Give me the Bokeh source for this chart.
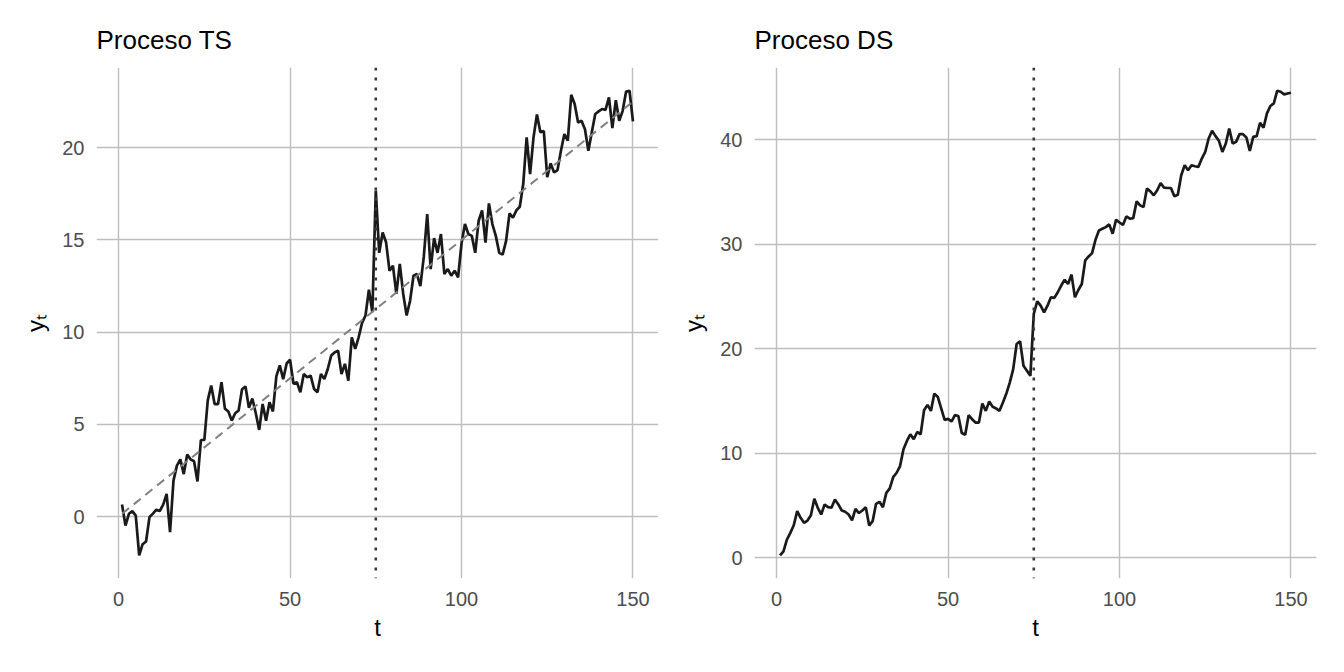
from bokeh.plotting import figure
from bokeh.layouts import row
from bokeh.models import Range1d, FixedTicker, Span
from bokeh.embed import file_html
from bokeh.resources import INLINE

# ---- data ----
t = list(range(1, 151))

ts_values = [0.65, -0.49, 0.15, 0.29, 0.05, -2.1, -1.5, -1.35, -0.03, 0.16,
             0.37, 0.3, 0.65, 1.23, -0.85, 1.95, 2.76, 3.1, 2.3, 3.36,
             3.1, 3.0, 1.9, 4.15, 4.15, 6.3, 7.1, 6.1, 6.1, 7.28,
             5.85, 5.7, 5.2, 5.6, 5.75, 6.9, 7.05, 5.9, 6.4, 5.6,
             4.7, 6.1, 5.2, 6.2, 5.7, 7.6, 8.2, 7.45, 8.3, 8.5,
             7.2, 7.28, 6.74, 7.73, 7.55, 7.64, 6.92, 6.74, 7.73, 7.46,
             8.0, 8.73, 8.9, 9.0, 7.73, 8.28, 7.37, 9.72, 9.09, 9.72,
             10.5, 10.9, 12.3, 11.08, 17.67, 14.3, 15.4, 14.87, 13.33, 13.6,
             12.07, 13.7, 12.07, 10.9, 11.7, 13.06, 13.15, 12.5, 14.08, 16.4,
             13.42, 15.1, 14.3, 15.32, 13.15, 13.42, 13.06, 13.33, 12.97, 14.8,
             15.86, 15.32, 15.22, 14.3, 16.04, 16.6, 14.85, 16.98, 15.86, 15.22,
             14.3, 14.2, 14.95, 16.44, 16.2, 16.6, 16.8, 18.03, 20.56, 18.57,
             20.56, 21.8, 20.84, 20.9, 18.4, 19.15, 18.66, 18.79, 19.84, 20.74,
             20.38, 22.87, 22.37, 21.37, 21.46, 21.0, 19.84, 20.84, 21.83, 21.97,
             22.1, 22.05, 22.73, 21.07, 22.58, 21.46, 22.0, 23.05, 23.09, 21.43]

ds_values = [0.26, 0.64, 1.76, 2.4, 3.13, 4.48, 3.84, 3.36, 3.58, 4.09,
             5.66, 4.8, 4.16, 5.12, 4.86, 4.8, 5.6, 5.12, 4.54, 4.42,
             4.16, 3.61, 4.7, 4.3, 4.54, 4.86, 3.1, 3.52, 5.18, 5.37,
             4.86, 6.23, 6.65, 7.74, 8.15, 8.79, 10.39, 11.19, 11.83, 11.35,
             12.05, 11.83, 14.13, 14.64, 14.06, 15.72, 15.4, 14.3, 13.2, 13.3,
             13.05, 13.66, 13.58, 11.95, 11.78, 13.65, 13.27, 12.95, 12.95, 14.77,
             14.07, 14.97, 14.46, 14.3, 14.07, 14.87, 15.72, 16.77, 18.06, 20.46,
             20.72, 18.38, 17.9, 17.42, 23.34, 24.55, 24.13, 23.49, 24.13, 24.93,
             24.87, 25.41, 26.05, 26.6, 26.2, 27.1, 24.93, 25.63, 26.2, 28.45,
             28.83, 29.15, 30.43, 31.32, 31.48, 31.64, 31.9, 31.0, 32.35, 32.08,
             31.85, 32.66, 32.44, 32.5, 34.1, 33.72, 33.56, 35.32, 35.06, 34.68,
             35.16, 35.86, 35.41, 35.38, 35.38, 34.58, 34.74, 36.6, 37.55, 37.07,
             37.55, 37.46, 37.39, 38.19, 38.83, 40.11, 40.85, 40.34, 39.89, 38.83,
             39.63, 41.07, 39.63, 39.79, 40.53, 40.53, 40.21, 38.93, 40.27, 40.34,
             41.62, 41.14, 42.51, 43.22, 43.47, 44.68, 44.58, 44.33, 44.42, 44.49]

trend_t = [1, 150]
trend_values = [0.15, 22.5]
break_t = 75

t_ticks = [0, 50, 100, 150]
ts_ticks = [0, 5, 10, 15, 20]
ds_ticks = [0, 10, 20, 30, 40]

titles = ["Proceso TS", "Proceso DS"]
x_title = "t"
y_title = "y\u209c"

FONT = "Liberation Sans"


def expand(vals, frac=0.05):
    lo, hi = min(vals), max(vals)
    pad = (hi - lo) * frac
    return lo - pad, hi + pad


def make_panel(title, yvals, yticks, border_left, border_right, trend=None):
    xr = expand(t)
    yr = expand(yvals)
    p = figure(width=664, height=656, output_backend="svg", toolbar_location=None,
               x_range=Range1d(*xr), y_range=Range1d(*yr),
               min_border_left=border_left, min_border_right=border_right,
               min_border_top=67, min_border_bottom=78)
    p.outline_line_color = None
    p.background_fill_color = "white"
    p.border_fill_color = "white"

    p.title.text = title
    p.title.text_font = FONT
    p.title.text_font_size = "26px"
    p.title.text_font_style = "normal"
    p.title.text_color = "black"
    p.title.align = "left"
    p.title.standoff = 25

    p.xaxis.ticker = FixedTicker(ticks=t_ticks)
    p.yaxis.ticker = FixedTicker(ticks=yticks)
    for ax in (p.xaxis, p.yaxis):
        ax.axis_line_color = None
        ax.major_tick_line_color = None
        ax.minor_tick_line_color = None
        ax.major_tick_in = 0
        ax.major_tick_out = 0
        ax.major_label_text_font = FONT
        ax.major_label_text_font_size = "20px"
        ax.major_label_text_color = "#4D4D4D"
        ax.axis_label_text_font = FONT
        ax.axis_label_text_font_size = "24px"
        ax.axis_label_text_font_style = "normal"
        ax.axis_label_text_color = "black"
    p.xaxis.axis_label = x_title
    p.yaxis.axis_label = y_title
    p.xaxis.major_label_standoff = 13
    p.yaxis.major_label_standoff = 12
    p.xaxis.axis_label_standoff = 5
    p.yaxis.axis_label_standoff = 10

    p.xgrid.grid_line_color = "#BEBEBE"
    p.ygrid.grid_line_color = "#BEBEBE"
    p.xgrid.grid_line_width = 1.4
    p.ygrid.grid_line_width = 1.4

    p.line(t, yvals, line_color="#1A1A1A", line_width=2.7)
    if trend is not None:
        p.line(trend[0], trend[1], line_color="#808080", line_width=2.0, line_dash="9 6")
    p.add_layout(Span(location=break_t, dimension="height", line_color="#3A3A3A",
                      line_width=2.6, line_dash="3 7"))
    return p


p1 = make_panel(titles[0], ts_values, ts_ticks, 96, 6, trend=(trend_t, trend_values))
p2 = make_panel(titles[1], ds_values, ds_ticks, 90, 12)

layout = row(p1, p2)
open("out.html", "w").write(file_html(layout, INLINE))
